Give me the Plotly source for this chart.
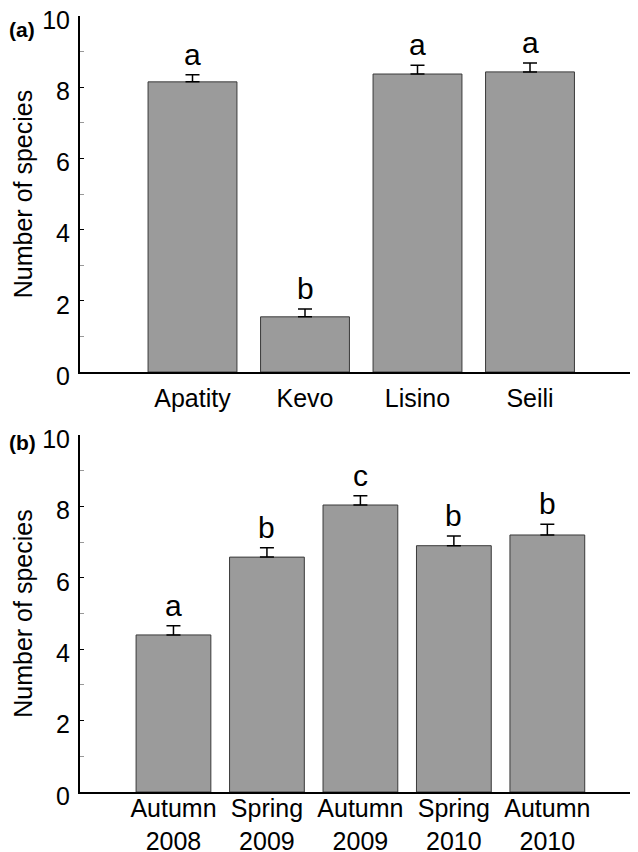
import plotly.graph_objects as go

# Panel (a): sites
sites = ["Apatity", "Kevo", "Lisino", "Seili"]
site_means = [8.15, 1.55, 8.37, 8.43]
site_se = [0.20, 0.22, 0.25, 0.25]
site_letters = ["a", "b", "a", "a"]

# Panel (b): sampling seasons
seasons = ["Autumn<br>2008", "Spring<br>2009", "Autumn<br>2009", "Spring<br>2010", "Autumn<br>2010"]
season_means = [4.40, 6.58, 8.04, 6.90, 7.20]
season_se = [0.26, 0.26, 0.26, 0.27, 0.30]
season_letters = ["a", "b", "c", "b", "b"]

y_ticks = [0, 2, 4, 6, 8, 10]
y_title = "Number of species"
panel_labels = ["(a)", "(b)"]

FONT = "Liberation Sans, Arial, sans-serif"
BAR_COLOR = "#9b9b9b"
EDGE = "#3a3a3a"

fig = go.Figure()

def add_panel(cats, means, se, letters, xa, ya, width):
    xs = list(range(len(cats)))
    fig.add_trace(go.Bar(
        x=xs, y=means, width=width,
        marker=dict(color=BAR_COLOR, line=dict(color=EDGE, width=1)),
        error_y=dict(type="data", symmetric=False, array=se,
                     arrayminus=[0] * len(se), color="black",
                     thickness=1.5, width=7),
        xaxis=xa, yaxis=ya, showlegend=False,
    ))
    for x, m, s, t in zip(xs, means, se, letters):
        fig.add_annotation(
            x=x, y=m + s, xref=xa, yref=ya, text=t, showarrow=False,
            yanchor="bottom", yshift=2,
            font=dict(family=FONT, size=30, color="black"),
        )

add_panel(sites, site_means, site_se, site_letters, "x", "y", 0.79)
add_panel(seasons, season_means, season_se, season_letters, "x2", "y2", 0.8)

yaxis_common = dict(
    range=[0, 10], tickvals=y_ticks, showline=True, linecolor="black",
    linewidth=2, ticks="inside", ticklen=4, tickwidth=1, tickcolor="black",
    minor=dict(ticks="inside", ticklen=4, tickcolor="#999999", dtick=1, tick0=0),
    showgrid=False, zeroline=False, ticklabelstandoff=3, ticklabelshift=4,
    ticklabeloverflow="allow", automargin=False,
    tickfont=dict(family=FONT, size=25, color="black"),
    title=dict(text=y_title, font=dict(family=FONT, size=25, color="black"),
               standoff=2),
)
xaxis_common = dict(
    showline=True, linecolor="black", linewidth=2, ticks="",
    showgrid=False, zeroline=False, automargin=False,
    ticklabeloverflow="allow",
    tickfont=dict(family=FONT, size=25, color="black"),
)

# the page body adds an 8px margin, so the figure is 8px smaller and shifted
fig.update_layout(
    template="none",
    width=630, height=844,
    margin=dict(l=72, r=0, t=8, b=60, autoexpand=False),
    paper_bgcolor="white", plot_bgcolor="white",
    font=dict(family=FONT, color="black"),
    xaxis=dict(xaxis_common, domain=[0, 1], range=[-1.0, 3.96],
               tickvals=list(range(len(sites))), ticktext=sites, anchor="y",
               ticklabelstandoff=3),
    yaxis=dict(yaxis_common, domain=[0.5412, 1.0], anchor="x"),
    xaxis2=dict(xaxis_common, domain=[0, 1], range=[-1.0, 4.97],
                tickvals=list(range(len(seasons))), ticktext=seasons, anchor="y2",
                ticklabelstandoff=-7),
    yaxis2=dict(yaxis_common, domain=[0, 0.46], anchor="x2"),
    bargap=0.2,
)

for lab, yp in zip(panel_labels, [0.983, 0.451]):
    fig.add_annotation(
        x=-0.131, y=yp, xref="paper", yref="paper", text="<b>%s</b>" % lab,
        showarrow=False, xanchor="left", yanchor="middle",
        font=dict(family=FONT, size=21, color="black"),
    )

fig.write_html("out.html")
